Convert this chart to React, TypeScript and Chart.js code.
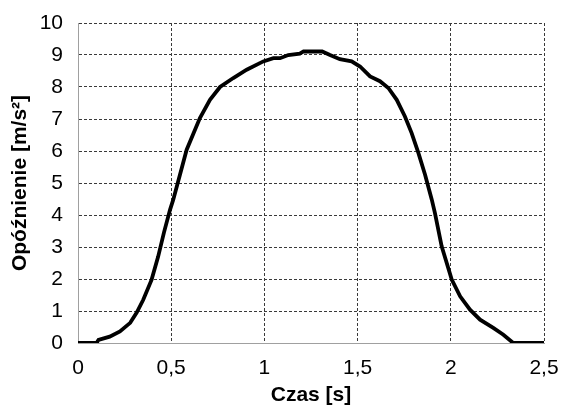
import React, { useEffect, useRef } from "react";
import { Chart, registerables } from "chart.js";

Chart.register(...registerables);

// Time [s]
const times: number[] = [
  0, 0.1, 0.11, 0.17, 0.225, 0.28, 0.315, 0.35, 0.395, 0.43, 0.461, 0.494, 0.511,
  0.583, 0.654, 0.708, 0.762, 0.833, 0.905, 0.994, 1.048, 1.084, 1.128, 1.19, 1.21,
  1.31, 1.352, 1.405, 1.468, 1.513, 1.567, 1.62, 1.665, 1.71, 1.754, 1.79, 1.826,
  1.862, 1.898, 1.915, 1.951, 2.005, 2.05, 2.103, 2.157, 2.228, 2.282, 2.335, 2.5,
];
// Deceleration [m/s²]
const decel: number[] = [
  0, 0, 0.1, 0.2, 0.36, 0.63, 0.95, 1.35, 1.98, 2.7, 3.45, 4.17, 4.48,
  6.04, 7.03, 7.6, 8.0, 8.28, 8.54, 8.8, 8.9, 8.9, 9.0, 9.04, 9.11,
  9.11, 9.0, 8.87, 8.8, 8.64, 8.33, 8.18, 7.97, 7.6, 7.08, 6.56, 5.94,
  5.26, 4.48, 4.06, 3.02, 1.98, 1.46, 1.04, 0.73, 0.47, 0.26, 0, 0,
];

const xTitle = "Czas [s]";
const yTitle = "Opóźnienie [m/s²]";
const xMin = 0, xMax = 2.5, xStep = 0.5;
const yMin = 0, yMax = 10, yStep = 1;

const FONT = "'Liberation Sans', Arial, sans-serif";

export default function App() {
  const ref = useRef<HTMLCanvasElement | null>(null);

  useEffect(() => {
    if (!ref.current) return;
    const gridColor = (ctx: any) =>
      ctx.tick && ctx.tick.value === 0 ? "rgba(0,0,0,0)" : "#3a3a3a";
    const chart = new Chart(ref.current, {
      type: "line",
      data: {
        datasets: [
          {
            data: times.map((t, i) => ({ x: t, y: decel[i] })),
            borderColor: "#000",
            borderWidth: 3.8,
            pointRadius: 0,
            tension: 0,
            fill: false,
          },
        ],
      },
      options: {
        animation: false,
        responsive: true,
        maintainAspectRatio: false,
        layout: { padding: { top: 23, right: 17, left: 0, bottom: 0 } },
        plugins: { legend: { display: false }, tooltip: { enabled: false } },
        scales: {
          x: {
            type: "linear",
            min: xMin,
            max: xMax,
            afterFit: (s: any) => {
              s.height = 63;
              s.paddingLeft = 0;
              s.paddingRight = 0;
            },
            ticks: {
              stepSize: xStep,
              color: "#000",
              padding: 13,
              maxRotation: 0,
              font: { family: FONT, size: 21 },
              callback: (v: any) => String(v).replace(".", ","),
            },
            grid: { color: gridColor, lineWidth: 1, drawTicks: false },
            border: { display: true, color: "#a0a0a0", width: 1, dash: [3, 2] },
            title: {
              display: true,
              text: xTitle,
              color: "#000",
              padding: 0,
              font: { family: FONT, size: 21, weight: "bold", lineHeight: 1 },
            },
          },
          y: {
            type: "linear",
            min: yMin,
            max: yMax,
            afterFit: (s: any) => {
              s.width = 78;
              s.paddingTop = 0;
              s.paddingBottom = 0;
            },
            ticks: {
              stepSize: yStep,
              color: "#000",
              padding: 15,
              font: { family: FONT, size: 21 },
            },
            grid: { color: gridColor, lineWidth: 1, drawTicks: false },
            border: { display: true, color: "#a0a0a0", width: 1, dash: [3, 2] },
            title: {
              display: true,
              text: yTitle,
              color: "#000",
              padding: { top: 10, bottom: 0 },
              font: { family: FONT, size: 21, weight: "bold", lineHeight: 1 },
            },
          },
        },
      },
    });
    return () => chart.destroy();
  }, []);

  return (
    <div style={{ position: "absolute", left: 0, top: 0, width: 561, height: 406, background: "#fff" }}>
      <canvas ref={ref} />
    </div>
  );
}
